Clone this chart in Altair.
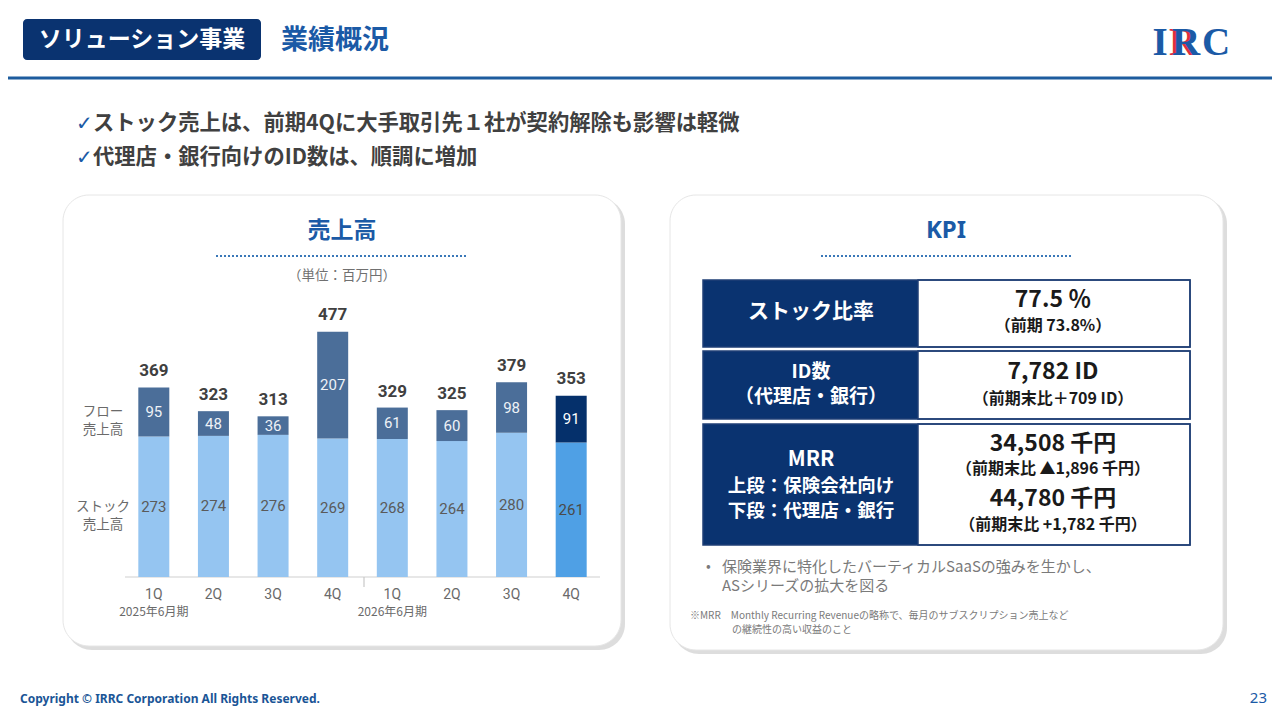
import altair as alt
import pandas as pd

# ---------------- data ----------------
fiscal_years = ["2025年6月期", "2026年6月期"]
quarters = ["1Q", "2Q", "3Q", "4Q"]
stock_sales = [273, 274, 276, 269, 268, 264, 280, 261]
flow_sales = [95, 48, 36, 207, 61, 60, 98, 91]
total_sales = [369, 323, 313, 477, 329, 325, 379, 353]

kpi_labels = ["ストック比率", "ID数", "（代理店・銀行）", "MRR", "上段：保険会社向け", "下段：代理店・銀行"]
kpi_main = ["77.5 ％", "7,782 ID", "34,508 千円", "44,780 千円"]
kpi_sub = ["（前期  73.8%）", "（前期末比＋709 ID）", "（前期末比 ▲1,896 千円）", "（前期末比 +1,782 千円）"]

bullets = ["ストック売上は、前期4Qに大手取引先１社が契約解除も影響は軽微",
           "代理店・銀行向けのID数は、順調に増加"]

JP = "Noto Sans CJK JP"
NAVY = "#0a3370"
BLUE = "#1b5aa6"
GRAY = "#404040"

# ---------------- build bar table ----------------
keys = [f"{fy} {q}" for fy in fiscal_years for q in quarters]
qlabels = [q for fy in fiscal_years for q in quarters]
n = len(keys)
rows = []
for i, k in enumerate(keys):
    hl = i == n - 1
    s, f = stock_sales[i], flow_sales[i]
    rows.append(dict(key=k, seg="stock_hl" if hl else "stock", lo=0, hi=s, mid=s / 2,
                     label=str(s), lc="#4a4a4a" if hl else "#5a5a5a"))
    rows.append(dict(key=k, seg="flow_hl" if hl else "flow", lo=s, hi=s + f, mid=s + f / 2,
                     label=str(f), lc="#ffffff" if hl else "#eef2f7"))
seg_df = pd.DataFrame(rows)
tot_df = pd.DataFrame(dict(key=keys, total=total_sales, label=[str(t) for t in total_sales]))
q_df = pd.DataFrame(dict(key=keys, q=qlabels))
g_df = pd.DataFrame(dict(key=[f"{fy} {quarters[0]}" for fy in fiscal_years], fy=fiscal_years))

O = 8  # page margin offset
xs = alt.Scale(domain=keys, range=[124 - O, 601 - O], paddingInner=0.48, paddingOuter=0.24)
ys = alt.Scale(domain=[0, 500], range=[577 - O, 577 - O - 257.5], nice=False, zero=True)
X = alt.X("key:N", scale=xs, axis=None, sort=keys)

one = pd.DataFrame({"a": [0]})


def txt(s, x, y, size, color, weight="normal", align="center", font=JP, baseline="middle", lh=None):
    kw = dict(text=s, fontSize=size, color=color, fontWeight=weight, align=align,
              baseline=baseline, font=font)
    if lh:
        kw["lineHeight"] = lh
    return alt.Chart(one).mark_text(**kw).encode(x=alt.value(x - O), y=alt.value(y - O))


def rect(x1, y1, x2, y2, fill, stroke=None, sw=0, r=0, opacity=1.0):
    kw = dict(fill=fill, opacity=opacity)
    if stroke:
        kw["stroke"] = stroke
        kw["strokeWidth"] = sw
    if r:
        kw["cornerRadius"] = r
    return alt.Chart(one).mark_rect(**kw).encode(
        x=alt.value(x1 - O), x2=alt.value(x2 - O), y=alt.value(y1 - O), y2=alt.value(y2 - O))


def hline(x1, x2, y, color, w=1.0, dash=None):
    kw = dict(color=color, strokeWidth=w)
    if dash:
        kw["strokeDash"] = dash
    return alt.Chart(one).mark_rule(**kw).encode(
        x=alt.value(x1 - O), x2=alt.value(x2 - O), y=alt.value(y - O))


def vline(x, y1, y2, color, w=1.0):
    return alt.Chart(one).mark_rule(color=color, strokeWidth=w).encode(
        x=alt.value(x - O), y=alt.value(y1 - O), y2=alt.value(y2 - O))


layers = []
# panels with shadow
layers += [rect(66, 198, 625, 650, "#cfcfcf", r=26, opacity=0.7),
           rect(63, 195, 621, 646, "#ffffff", stroke="#e6e6e6", sw=1, r=26),
           rect(673, 198, 1227, 654, "#cfcfcf", r=26, opacity=0.7),
           rect(670, 195, 1223, 650, "#ffffff", stroke="#e6e6e6", sw=1, r=26)]

# header
layers += [rect(23, 19, 261, 60, NAVY, r=4),
           txt("ソリューション事業", 142, 40, 23, "#ffffff", "bold"),
           txt("業績概況", 281, 41, 27, BLUE, "bold", align="left"),
           hline(0 + O, 1280 - O, 78, "#1d5c9e", 3)]
# logo
layers += [txt("I", 1160, 43, 39, BLUE, "bold", font="Liberation Serif"),
           txt("R", 1183, 43, 39, "#e0303a", "bold", font="Liberation Serif"),
           txt("R", 1186, 43, 39, BLUE, "bold", font="Liberation Serif"),
           txt("C", 1216, 43, 39, BLUE, "bold", font="Liberation Serif")]

# bullets
for i, b in enumerate(bullets):
    yy = 124 + 34 * i
    layers += [txt("✓", 76, yy, 20, BLUE, "bold", align="left", font="DejaVu Sans"),
               txt(b, 93, yy, 21.3, GRAY, "bold", align="left")]

# left panel title
layers += [txt("売上高", 342, 231, 23, BLUE, "bold"),
           hline(216, 468, 256, "#3a78b8", 2, [2, 2]),
           txt("（単位：百万円）", 342, 276, 13.5, "#707070")]
# right panel title
layers += [txt("KPI", 946, 231, 24, BLUE, "bold", font="Noto Sans"),
           hline(821, 1073, 256, "#3a78b8", 2, [2, 2])]

# side labels
layers += [txt(["フロー", "売上高"], 103, 412, 13.5, "#6a6a6a", lh=18),
           txt(["ストック", "売上高"], 103, 507, 13.5, "#6a6a6a", lh=18)]

# axis baseline and separator tick
layers += [hline(125, 600, 577, "#d0d0d0", 1.2), vline(364, 577, 587, "#c8c8c8", 1.2)]

# bars
color = alt.Color("seg:N", legend=None,
                  scale=alt.Scale(domain=["stock", "flow", "stock_hl", "flow_hl"],
                                  range=["#95c5f1", "#4b6e99", "#4fa0e5", "#05306b"]))
bars = alt.Chart(seg_df).mark_bar().encode(
    x=X, y=alt.Y("hi:Q", scale=ys, axis=None), y2="lo:Q", color=color)
seg_text = alt.Chart(seg_df).mark_text(font="Roboto", fontSize=15, baseline="middle").encode(
    x=X, y=alt.Y("mid:Q", scale=ys, axis=None), text="label:N", color=alt.Color("lc:N", scale=None))
tot_text = alt.Chart(tot_df).mark_text(font="Roboto", fontSize=17, fontWeight="bold",
                                       baseline="middle", dy=-16, color=GRAY).encode(
    x=X, y=alt.Y("total:Q", scale=ys, axis=None), text="label:N")
q_text = alt.Chart(q_df).mark_text(font="Roboto", fontSize=14, color="#6a6a6a", baseline="middle").encode(
    x=X, y=alt.value(595 - O), text="q:N")
g_text = alt.Chart(g_df).mark_text(font=JP, fontSize=12, color="#6a6a6a", baseline="middle").encode(
    x=X, y=alt.value(612 - O), text="fy:N")
layers += [bars, seg_text, tot_text, q_text, g_text]

# KPI table
row_y = [(280, 347), (351, 419), (424, 545)]
for (y1, y2) in row_y:
    layers += [rect(703, y1, 918, y2, NAVY),
               rect(918, y1, 1190, y2, "#ffffff", stroke="#1f3f75", sw=1.5),
               rect(703, y1, 1190, y2, "none", stroke="#1f3f75", sw=1.5)]
layers += [txt(kpi_labels[0], 811, 312, 21, "#ffffff", "bold"),
           txt(kpi_labels[1], 811, 372, 19, "#ffffff", "bold"),
           txt(kpi_labels[2], 811, 397, 19, "#ffffff", "bold"),
           txt(kpi_labels[3], 811, 460, 21, "#ffffff", "bold"),
           txt(kpi_labels[4], 811, 486, 18.5, "#ffffff", "bold"),
           txt(kpi_labels[5], 811, 511, 18.5, "#ffffff", "bold")]
main_y = [300, 372, 444, 499]
sub_y = [326, 399, 469, 525]
for i in range(4):
    layers += [txt(kpi_main[i], 1053, main_y[i], 23, "#1a1a1a", "bold"),
               txt(kpi_sub[i], 1053, sub_y[i], 16, "#1a1a1a", "bold")]

# notes
layers += [txt("•", 706, 567, 14, "#7a7a7a", align="left"),
           txt(["保険業界に特化したバーティカルSaaSの強みを生かし、", "ASシリーズの拡大を図る"],
               722, 567, 15, "#7a7a7a", align="left", lh=19),
           txt("※MRR　Monthly Recurring Revenueの略称で、毎月のサブスクリプション売上など",
               690, 616, 10, "#7a7a7a", align="left"),
           txt("の継続性の高い収益のこと", 732, 630, 10, "#7a7a7a", align="left")]

# footer
layers += [txt("Copyright © IRRC Corporation All Rights Reserved.", 20, 699, 12, "#1a5596", "bold",
               align="left", font="Noto Sans"),
           txt("23", 1267, 698, 15, BLUE, align="right", font="Noto Sans")]

chart = alt.layer(*layers).properties(
    width=1264, height=704, padding=0, background="#ffffff",
    autosize=alt.AutoSizeParams(type="none"),
).configure_view(stroke=None)

chart.save("out.html", embed_options={"renderer": "svg", "actions": False})
